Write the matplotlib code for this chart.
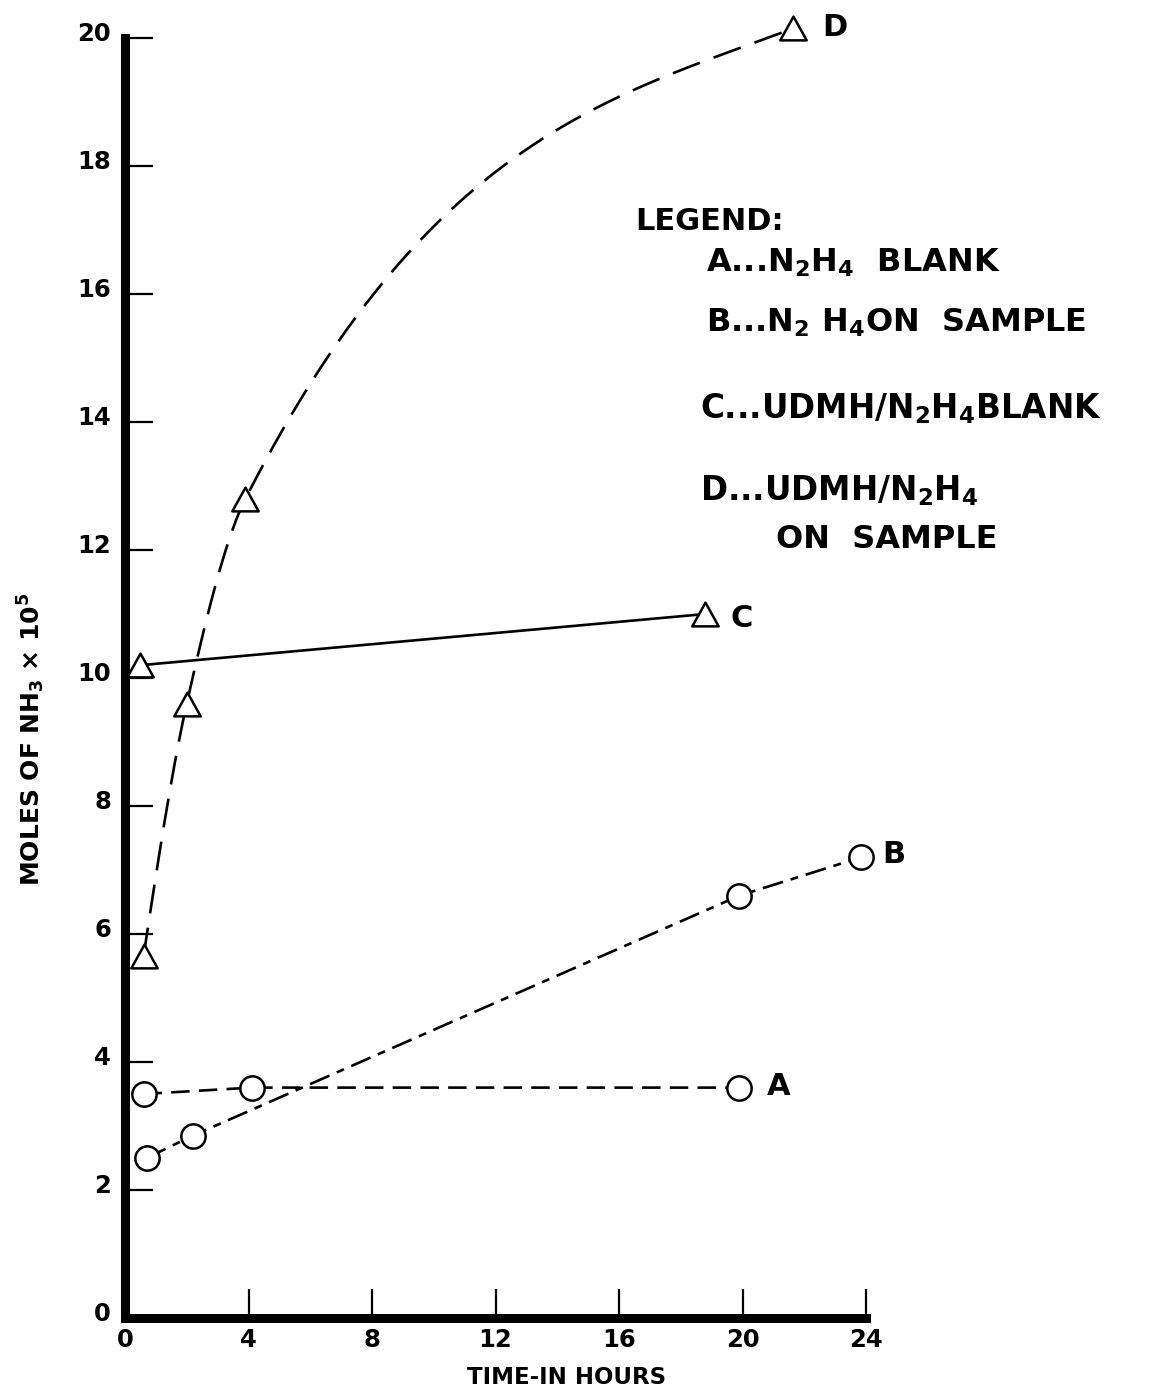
import numpy as np
import matplotlib
matplotlib.use("Agg")
import matplotlib.pyplot as plt
from matplotlib.path import Path
from matplotlib.transforms import ScaledTranslation

# ---------------- data ----------------
time_A = [0.6, 4.1, 19.9]
nh3_A = [3.5, 3.6, 3.6]

time_B = [0.7, 2.2, 19.9, 23.85]
nh3_B = [2.5, 2.85, 6.6, 7.2]

time_C = [0.5, 18.8]
nh3_C = [10.2, 11.0]

time_D = [0.6, 2.0, 3.9, 21.65]
nh3_D = [5.65, 9.6, 12.8, 20.15]

x_ticks = [0, 4, 8, 12, 16, 20, 24]
y_ticks = [0, 2, 4, 6, 8, 10, 12, 14, 16, 18, 20]

legend_title = "LEGEND:"
legend_rows = [
    r"A...N$_\mathbf{2}$H$_\mathbf{4}$  BLANK",
    r"B...N$_\mathbf{2}$ H$_\mathbf{4}$ON  SAMPLE",
    r"C...UDMH/N$_\mathbf{2}$H$_\mathbf{4}$BLANK",
    r"D...UDMH/N$_\mathbf{2}$H$_\mathbf{4}$",
    "ON  SAMPLE",
]
x_label = "TIME-IN HOURS"
y_label = r"MOLES OF NH$_\mathbf{3}$ × 10$^\mathbf{5}$"

# ---------------- style ----------------
plt.rcParams["font.family"] = ["DejaVu Sans"]
plt.rcParams["font.weight"] = "bold"
plt.rcParams["mathtext.fontset"] = "dejavusans"
plt.rcParams["mathtext.default"] = "bf"

W, H = 1160, 1393
fig = plt.figure(figsize=(W / 100, H / 100), dpi=100)
fig.patch.set_facecolor("white")

left_px, right_px = 125, 866
bottom_px, top_px = 1318, 38
ax = fig.add_axes([left_px / W, 1 - bottom_px / H,
                   (right_px - left_px) / W, (bottom_px - top_px) / H])
ax.set_xlim(0, 24)
ax.set_ylim(0, 20)
ax.set_facecolor("white")

for s in ("top", "right"):
    ax.spines[s].set_visible(False)
for s in ("left", "bottom"):
    ax.spines[s].set_linewidth(6.5)
    ax.spines[s].set_capstyle("projecting")
    ax.spines[s].set_color("black")

ax.set_xticks(x_ticks)
ax.set_yticks(y_ticks)
ax.set_xticklabels([str(v) for v in x_ticks])
ax.set_yticklabels([str(v) for v in y_ticks])
ax.tick_params(axis="y", direction="in", length=20, width=1.6, pad=10,
               labelsize=17.5)
ax.tick_params(axis="x", direction="in", length=21, width=1.6, pad=7,
               labelsize=17.5)
for lab in ax.get_yticklabels():
    lab.set_fontweight("bold")
    lab.set_transform(lab.get_transform() +
                      ScaledTranslation(0, 5 / 72, fig.dpi_scale_trans))
for lab in ax.get_xticklabels():
    lab.set_fontweight("bold")

# triangle marker, slightly flatter than equilateral bbox
tri = Path([(0, 0.9), (-1, -0.9), (1, -0.9), (0, 0.9)],
           [Path.MOVETO, Path.LINETO, Path.LINETO, Path.CLOSEPOLY])

# tangents (curve shape only) used to draw the smooth hand-drawn D curve
d_curve_slopes = [3.2, 2.15, 0.95, 0.18]


def hermite(x, y, m, xn):
    x = np.asarray(x, float)
    y = np.asarray(y, float)
    m = np.asarray(m, float)
    h = np.diff(x)
    n = len(x)
    idx = np.clip(np.searchsorted(x, xn) - 1, 0, n - 2)
    out = np.empty_like(xn)
    for i, (xv, k) in enumerate(zip(xn, idx)):
        t = (xv - x[k]) / h[k]
        h00 = 2 * t**3 - 3 * t**2 + 1
        h10 = t**3 - 2 * t**2 + t
        h01 = -2 * t**3 + 3 * t**2
        h11 = t**3 - t**2
        out[i] = (h00 * y[k] + h10 * h[k] * m[k] + h01 * y[k + 1]
                  + h11 * h[k] * m[k + 1])
    return out


lw = 1.9
# A: dashed
ax.plot(time_A, nh3_A, color="black", lw=lw, linestyle=(0, (7, 3.5)),
        clip_on=False, zorder=2)
# B: long dash / short dash
ax.plot(time_B, nh3_B, color="black", lw=lw, linestyle=(0, (8, 3, 3, 3)),
        clip_on=False, zorder=2)
# C: solid
ax.plot(time_C, nh3_C, color="black", lw=lw, linestyle="-",
        clip_on=False, zorder=2)
# D: smooth long-dashed curve through the points
xs = np.linspace(time_D[0], time_D[-1], 500)
ax.plot(xs, hermite(time_D, nh3_D, d_curve_slopes, xs), color="black", lw=lw,
        linestyle=(0, (11, 5.5)), clip_on=False, zorder=2)

mk = dict(color="black", markerfacecolor="white", markeredgecolor="black",
          markeredgewidth=1.8, linestyle="none", clip_on=False, zorder=3)
ax.plot(time_A, nh3_A, marker="o", markersize=17.5, **mk)
ax.plot(time_B, nh3_B, marker="o", markersize=17.5, **mk)
ax.plot(time_C, nh3_C, marker=tri, markersize=19, **mk)
ax.plot(time_D, nh3_D, marker=tri, markersize=19, **mk)

# curve end labels
lab_kw = dict(textcoords="offset points", ha="left", va="center",
              fontsize=22, fontweight="bold", annotation_clip=False)
ax.annotate("A", xy=(time_A[-1], nh3_A[-1]), xytext=(20, 1), **lab_kw)
ax.annotate("B", xy=(time_B[-1], nh3_B[-1]), xytext=(15, 2), **lab_kw)
ax.annotate("C", xy=(time_C[-1], nh3_C[-1]), xytext=(18, -3), **lab_kw)
ax.annotate("D", xy=(time_D[-1], nh3_D[-1]), xytext=(21, 1), **lab_kw)


# legend block (figure pixel coordinates, baseline aligned)
def ftext(xp, yp_base, s, size):
    fig.text(xp / W, 1 - yp_base / H, s, fontsize=size, fontweight="bold",
             ha="left", va="baseline")


ftext(635, 230, legend_title, 22)
ftext(706, 272, legend_rows[0], 23)
ftext(706, 332, legend_rows[1], 23)
ftext(700, 418, legend_rows[2], 23.5)
ftext(700, 500, legend_rows[3], 23.5)
ftext(776, 548, legend_rows[4], 23)

# axis titles
fig.text(567 / W, 1 - 1377 / H, x_label, fontsize=16.5, fontweight="bold",
         ha="center", va="center")
fig.text(31 / W, 1 - 739 / H, y_label, fontsize=18, fontweight="bold",
         ha="center", va="center", rotation=90)

fig.savefig("out.png", dpi=100, facecolor="white")
